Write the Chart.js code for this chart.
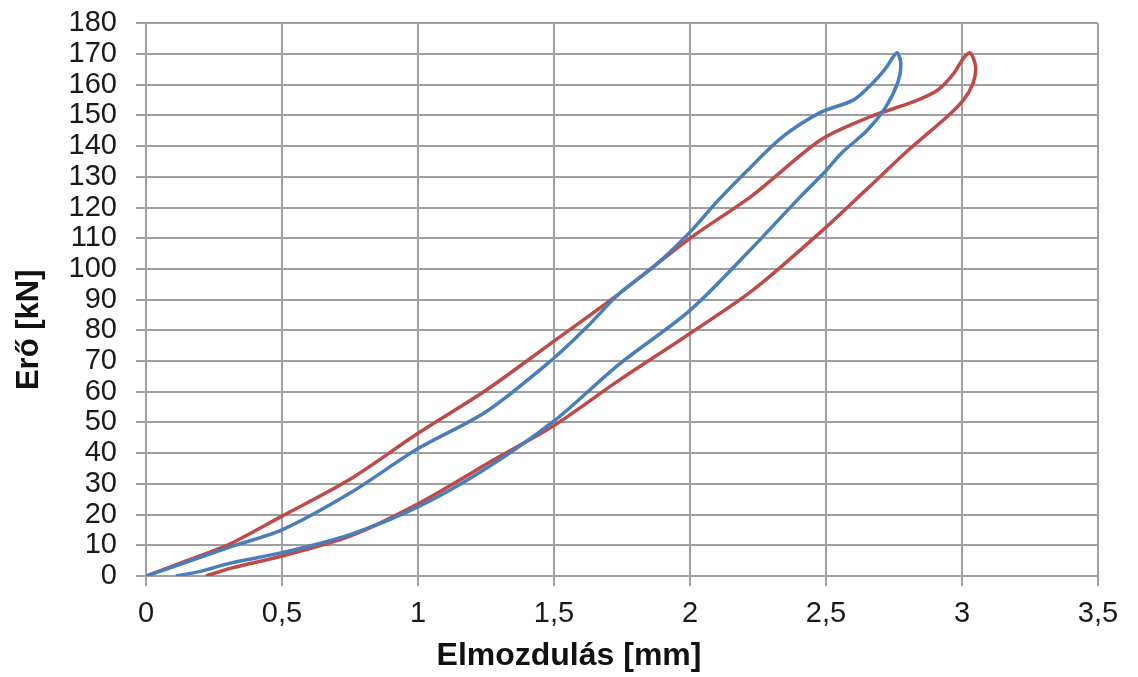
<!DOCTYPE html>
<html>
<head>
<meta charset="utf-8">
<script src="https://cdn.jsdelivr.net/npm/chart.js@4"></script>
<style>
  html, body { margin: 0; padding: 0; background: #fff; }
  #wrap { width: 1138px; height: 677px; }
</style>
</head>
<body>
<div id="wrap"><canvas id="chart" width="1138" height="677"></canvas></div>
<script>
// Tengely beosztások
const xTicks = [0, 0.5, 1, 1.5, 2, 2.5, 3, 3.5];
const yTicks = [0, 10, 20, 30, 40, 50, 60, 70, 80, 90, 100, 110, 120, 130, 140, 150, 160, 170, 180];

// Kék hurok: terhelés (felső ág), majd tehermentesítés (alsó ág)
const blueX = [0, 0.15, 0.31, 0.5, 0.75, 1.0, 1.25, 1.5, 1.62, 1.74, 1.87, 2.0, 2.1, 2.21, 2.34, 2.48, 2.6, 2.67, 2.72, 2.76,
  2.775, 2.765, 2.72, 2.65, 2.56, 2.5, 2.4, 2.23, 2.0, 1.74, 1.5, 1.25, 1.0, 0.75, 0.5, 0.31, 0.2, 0.11];
const blueY = [0, 4.5, 9.5, 15, 27, 41.5, 53.5, 71, 81, 92, 101, 112, 122, 132, 143, 151, 155, 160.4, 165.4, 170.4,
  167, 161, 152.8, 145, 138, 132, 123, 107, 86.5, 69, 50.5, 35, 22.5, 13.5, 7.6, 4.2, 1.5, 0];

// Piros hurok
const redX = [0, 0.15, 0.31, 0.5, 0.75, 1.0, 1.25, 1.5, 1.74, 2.0, 2.23, 2.48, 2.66, 2.82, 2.91, 2.97, 3.005, 3.03,
  3.05, 3.04, 3.005, 2.944, 2.8, 2.65, 2.48, 2.23, 2.0, 1.74, 1.5, 1.29, 1.0, 0.75, 0.5, 0.31, 0.22];
const redY = [0, 5, 10.5, 19.5, 31.5, 46.5, 60.5, 76.5, 92, 110, 124, 142, 149.5, 154.4, 158.2, 163.7, 168.6, 170.4,
  165.8, 160.4, 155, 149.5, 138.5, 126, 112, 93, 79, 63.8, 49, 38.4, 23.5, 13, 6.5, 2.5, 0];

const toPoints = (xs, ys) => xs.map((x, i) => ({ x: x, y: ys[i] }));
const fmt = (v) => String(v).replace('.', ',');

const gridColor = '#a0a0a0';
const fontFamily = 'Liberation Sans, Arial, sans-serif';

const ctx = document.getElementById('chart').getContext('2d');
new Chart(ctx, {
  type: 'scatter',
  data: {
    datasets: [
      {
        label: 'kék',
        data: toPoints(blueX, blueY),
        showLine: true,
        borderColor: '#4a7ebb',
        borderWidth: 3.5,
        pointRadius: 0,
        tension: 0.3,
        fill: false
      },
      {
        label: 'piros',
        data: toPoints(redX, redY),
        showLine: true,
        borderColor: '#be4b48',
        borderWidth: 3.5,
        pointRadius: 0,
        tension: 0.3,
        fill: false
      }
    ]
  },
  options: {
    responsive: false,
    animation: false,
    layout: { padding: { top: 0, right: 0, left: 0, bottom: 0 } },
    plugins: {
      legend: { display: false },
      tooltip: { enabled: false },
      title: {
        display: true,
        position: 'bottom',
        text: 'Elmozdulás [mm]',
        color: '#111',
        font: { family: fontFamily, size: 32, weight: 'bold' },
        padding: { top: 10, bottom: 2 }
      }
    },
    scales: {
      x: {
        type: 'linear',
        min: xTicks[0],
        max: xTicks[xTicks.length - 1],
        afterBuildTicks: (scale) => { scale.ticks = xTicks.map(v => ({ value: v })); },
        afterFit: (scale) => { scale.height = 677 - 576 - 50.4; },
        grid: { color: gridColor, lineWidth: 2, tickLength: 10, drawTicks: true },
        border: { color: gridColor, width: 2 },
        ticks: {
          autoSkip: false,
          maxRotation: 0,
          padding: 13,
          color: '#1a1a1a',
          font: { family: fontFamily, size: 29, lineHeight: 1.0 },
          callback: (v) => fmt(v)
        }
      },
      y: {
        type: 'linear',
        min: yTicks[0],
        max: yTicks[yTicks.length - 1],
        afterBuildTicks: (scale) => { scale.ticks = yTicks.map(v => ({ value: v })); },
        afterFit: (scale) => { scale.width = 146; },
        grid: { color: gridColor, lineWidth: 2, tickLength: 10, drawTicks: true },
        border: { color: gridColor, width: 2 },
        title: {
          display: true,
          // a záró nem törő szóközök kissé lejjebb tolják a feliratot, mint az eredetin
          text: 'Erő [kN]\u00a0\u00a0\u00a0\u00a0\u00a0\u00a0\u00a0',
          color: '#111',
          font: { family: fontFamily, size: 31, weight: 'bold' },
          padding: { top: 11, bottom: 0 }
        },
        ticks: {
          autoSkip: false,
          padding: 19,
          color: '#1a1a1a',
          // kis sormagasság, hogy a felső címke ne tolja le a rajzterületet
          font: { family: fontFamily, size: 29, lineHeight: 0.3 }
        }
      },
      // üres jobb oldali sáv, hogy a rajzterület 3,5-nél véget érjen
      yRight: {
        type: 'linear',
        position: 'right',
        min: yTicks[0],
        max: yTicks[yTicks.length - 1],
        afterFit: (scale) => { scale.width = 40; },
        grid: { display: false, drawTicks: false },
        border: { display: false },
        ticks: { display: false }
      }
    }
  }
});
</script>
</body>
</html>
